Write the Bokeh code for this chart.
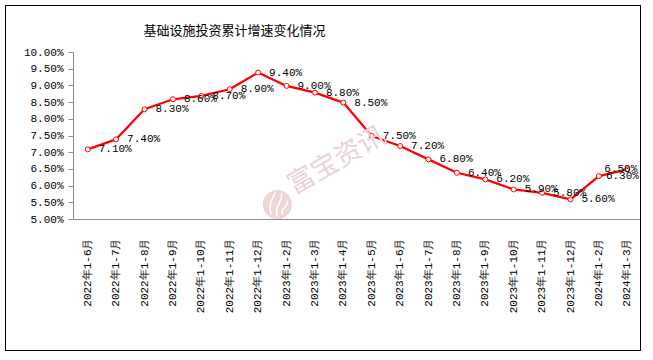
import math
from bokeh.plotting import figure
from bokeh.models import (FactorRange, Range1d, FixedTicker, CustomJSTickFormatter,
                          ColumnDataSource, Label)
from bokeh.embed import file_html
from bokeh.resources import INLINE

title_text = "基础设施投资累计增速变化情况"
categories = [
    "2022年1-6月", "2022年1-7月", "2022年1-8月", "2022年1-9月", "2022年1-10月",
    "2022年1-11月", "2022年1-12月", "2023年1-2月", "2023年1-3月", "2023年1-4月",
    "2023年1-5月", "2023年1-6月", "2023年1-7月", "2023年1-8月", "2023年1-9月",
    "2023年1-10月", "2023年1-11月", "2023年1-12月", "2024年1-2月", "2024年1-3月",
]
growth = [7.1, 7.4, 8.3, 8.6, 8.7, 8.9, 9.4, 9.0, 8.8, 8.5,
          7.5, 7.2, 6.8, 6.4, 6.2, 5.9, 5.8, 5.6, 6.3, 6.5]
y_ticks = [5.0, 5.5, 6.0, 6.5, 7.0, 7.5, 8.0, 8.5, 9.0, 9.5, 10.0]
watermark_text = "富宝资讯"

NUM_FONT = "Liberation Mono"
CJK_FONT = "Noto Sans CJK SC"
AXIS_GRAY = "#8c8c8c"

n = len(growth)
align = []
xoff = []
for i in range(n):
    if i == n - 1:
        align.append("right"); xoff.append(10)
    elif i == n - 2:
        align.append("left"); xoff.append(7)
    else:
        align.append("left"); xoff.append(11)

src = ColumnDataSource(dict(
    cat=categories,
    val=growth,
    label=[f"{v:.2f}%" for v in growth],
    align=align,
    xoff=xoff,
))

p = figure(x_range=FactorRange(*categories), y_range=Range1d(y_ticks[0], y_ticks[-1]),
           width=636, height=346, output_backend="svg", toolbar_location=None,
           min_border_left=67, min_border_right=1, min_border_top=46, min_border_bottom=133)
p.styles = {"border": "1px solid black", "margin": "5px 0 0 5px"}
p.background_fill_color = "white"
p.border_fill_color = "white"
p.outline_line_color = None
p.grid.visible = False

p.title.text = title_text
p.title.align = "left"
p.title.vertical_align = "middle"
p.title.offset = 70
p.title.standoff = 25
p.title.text_font = CJK_FONT
p.title.text_font_size = "13px"
p.title.text_font_style = "normal"
p.title.text_color = "black"

# x axis
p.xaxis.axis_line_color = AXIS_GRAY
p.xaxis.major_tick_line_color = None
p.xaxis.minor_tick_line_color = None
p.xaxis.major_label_orientation = math.pi / 2
p.xaxis.major_label_standoff = 13
p.xaxis.major_label_text_font = NUM_FONT
p.xaxis.major_label_text_font_size = "11px"
p.xaxis.major_label_text_color = "black"

# y axis
p.yaxis.ticker = FixedTicker(ticks=y_ticks)
p.yaxis.formatter = CustomJSTickFormatter(code="return tick.toFixed(2) + '%';")
p.yaxis.axis_line_color = AXIS_GRAY
p.yaxis.major_tick_line_color = AXIS_GRAY
p.yaxis.major_tick_out = 5
p.yaxis.major_tick_in = 0
p.yaxis.minor_tick_line_color = None
p.yaxis.major_label_standoff = 5
p.yaxis.major_label_text_font = NUM_FONT
p.yaxis.major_label_text_font_size = "11px"
p.yaxis.major_label_text_color = "black"

# watermark (logo + name)
LX, LY = 7.18, 5.45
px_x, px_y = 1 / 28.4, 5 / 167
p.scatter(x=[LX], y=[LY], size=29, fill_color="#ecd6d6", line_color=None)
strokes = [(-6, 10, -2, -12, -10, 0, -4, -8),
           (0, 12, 4, -11, -4, 2, 6, -3),
           (5, 10, 10, -4, 2, 4, 12, 2)]
p.bezier(x0=[LX + s[0] * px_x for s in strokes], y0=[LY - s[1] * px_y for s in strokes],
         x1=[LX + s[2] * px_x for s in strokes], y1=[LY - s[3] * px_y for s in strokes],
         cx0=[LX + s[4] * px_x for s in strokes], cy0=[LY - s[5] * px_y for s in strokes],
         cx1=[LX + s[6] * px_x for s in strokes], cy1=[LY - s[7] * px_y for s in strokes],
         line_color="white", line_width=1.5)
p.add_layout(Label(x=7.9, y=5.53, text=watermark_text, angle=0.52,
                   text_font=CJK_FONT, text_font_size="27px", text_color="#ecd3d3"))

# series
p.line(x="cat", y="val", source=src, line_color="#ff0000", line_width=2.25)
p.scatter(x="cat", y="val", source=src, size=5, fill_color="white",
          line_color="#ff0000", line_width=1)
p.text(x="cat", y="val", text="label", source=src, x_offset="xoff",
       text_align="align", text_baseline="middle",
       text_font={"value": NUM_FONT}, text_font_size="11px", text_color="black")

open("out.html", "w").write(file_html(p, INLINE))
